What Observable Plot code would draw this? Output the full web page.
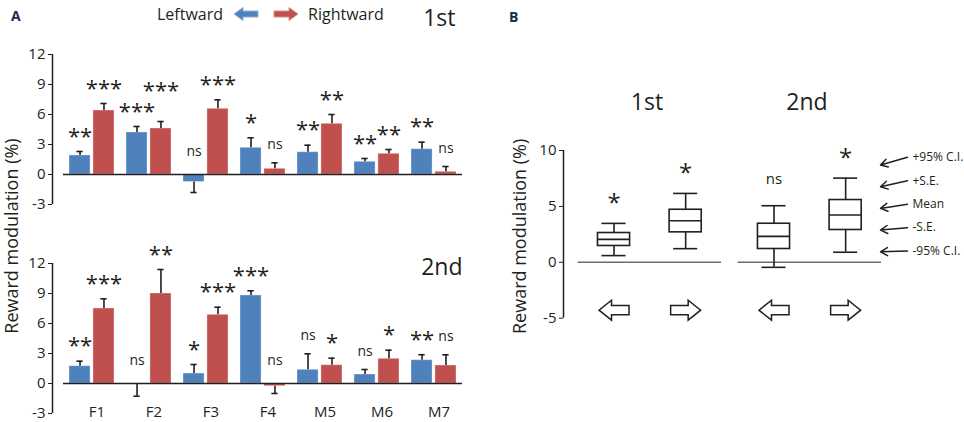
<!DOCTYPE html>
<html>
<head>
<meta charset="utf-8">
<script src="https://cdn.jsdelivr.net/npm/d3@7"></script>
<script src="https://cdn.jsdelivr.net/npm/@observablehq/plot@0.6"></script>
<style>
  html, body { margin: 0; padding: 0; background: #fff; }
  #fig { position: relative; width: 964px; height: 422px; background: #fff; font-family: "Open Sans", sans-serif; color: #231f20; overflow: hidden; }
  #fig > * { position: absolute; }
  .panel-letter { font-weight: bold; font-size: 14px; color: #1d2b4f; }
  .ylab { font-size: 18px; white-space: nowrap; transform: translate(-50%, -50%) rotate(-90deg); }
  #legend { display: flex; align-items: center; font-size: 16px; height: 26px; }
  #legend svg { display: block; }
</style>
</head>
<body>
<div id="fig">
  <div class="panel-letter" style="left:11px;top:6px;">A</div>
  <div class="panel-letter" style="left:509px;top:7px;">B</div>
  <div class="ylab" style="left:11px;top:236px;">Reward modulation (%)</div>
  <div id="legend" style="left:157px;top:1px;">
    <span>Leftward</span>
    <svg width="26" height="16" style="margin-left:10px" viewBox="0 0 26 16"><polygon points="1,8 10,1.5 10,5 25,5 25,11 10,11 10,14.5" fill="#4F81BD" stroke="#8fb0d8" stroke-width="1"/></svg>
    <svg width="26" height="16" style="margin-left:14px" viewBox="0 0 26 16"><polygon points="25,8 16,1.5 16,5 1,5 1,11 16,11 16,14.5" fill="#C0504D" stroke="#d98d8b" stroke-width="1"/></svg>
    <span style="margin-left:9px">Rightward</span>
  </div>
</div>
<script>
// ---------- data ----------
const regions = ["F1", "F2", "F3", "F4", "M5", "M6", "M7"];
const directions = ["Leftward", "Rightward"];
const phases = ["1st", "2nd"];

// Panel A: mean reward modulation (%) and s.e.m., per region
const left1st     = [1.9, 4.2, -0.75, 2.67, 2.23, 1.27, 2.53];
const left1stErr  = [0.4, 0.6, 1.05, 1.0, 0.7, 0.33, 0.7];
const right1st    = [6.4, 4.6, 6.57, 0.57, 5.07, 2.07, 0.27];
const right1stErr = [0.7, 0.7, 0.9, 0.6, 0.93, 0.43, 0.53];
const left2nd     = [1.73, -0.1, 1.0, 8.8, 1.37, 0.9, 2.33];
const left2ndErr  = [0.5, 1.17, 0.9, 0.47, 1.6, 0.5, 0.55];
const right2nd    = [7.5, 9.0, 6.87, -0.27, 1.83, 2.47, 1.8];
const right2ndErr = [0.97, 2.4, 0.76, 0.73, 0.7, 0.86, 1.07];
const left1stSig  = ["**", "***", "ns", "*", "**", "**", "**"];
const right1stSig = ["***", "***", "***", "ns", "**", "**", "ns"];
const left2ndSig  = ["**", "ns", "*", "***", "ns", "ns", "**"];
const right2ndSig = ["***", "**", "***", "ns", "*", "*", "ns"];
const tickA = [-3, 0, 3, 6, 9, 12];

// Panel B: population summary (mean, ±S.E., ±95% C.I.)
const boxPhase = ["1st", "1st", "2nd", "2nd"];
const boxDir   = ["Leftward", "Rightward", "Leftward", "Rightward"];
const ciLow    = [0.6, 1.22, -0.45, 0.9];
const seLow    = [1.46, 2.68, 1.19, 2.89];
const means    = [2.05, 3.72, 2.32, 4.23];
const seHigh   = [2.62, 4.7, 3.45, 5.57];
const ciHigh   = [3.48, 6.16, 5.06, 7.53];
const boxSig   = ["*", "*", "ns", "*"];
const tickB = [-5, 0, 5, 10];
const keyLabels = ["+95% C.I.", "+S.E.", "Mean", "-S.E.", "-95% C.I."];
const yLabel = "Reward modulation (%)";

// ---------- styling ----------
const BLUE = "#4F81BD", RED = "#C0504D", INK = "#231f20";
const FONT = "'Open Sans', sans-serif";
const fig = document.getElementById("fig");

// ---------- panel A ----------
const series = [
  [[left1st, left1stErr, left1stSig], [right1st, right1stErr, right1stSig]],
  [[left2nd, left2ndErr, left2ndSig], [right2nd, right2ndErr, right2ndSig]]
];
const xlo = -0.693;

function panelA(k) {
  const bars = [];
  regions.forEach((r, i) => {
    const pair = directions.map((d, j) => {
      const [vals, errs, sigs] = series[k][j];
      const v = vals[i], e = errs[i];
      const tip = v >= 0 ? v + e : v - e;
      return {region: r, dir: d, pos: i + (j ? 0.21 : -0.21), value: v, tip, sig: sigs[i],
              ly: Math.max(tip, sigs[i] === "ns" ? 0.5 : 0)};
    });
    // keep long star labels of one pair from colliding
    const [a, b] = pair;
    if (a.sig.length + b.sig.length >= 6 && Math.abs(a.ly - b.ly) < 2.1) {
      const hi = a.ly > b.ly ? a : b, lo = hi === a ? b : a;
      hi.ly = lo.ly + 2.1;
    }
    bars.push(...pair);
  });
  const marks = [
    Plot.rect(bars, {x1: d => d.pos - 0.185, x2: d => d.pos + 0.185, y1: 0, y2: "value", fill: "dir", stroke: "#fff", strokeOpacity: 0.35, strokeWidth: 1}),
    Plot.ruleX(bars, {x: "pos", y1: "value", y2: "tip", stroke: INK, strokeWidth: 1.6}),
    Plot.ruleY(bars, {y: "tip", x1: d => d.pos - 0.055, x2: d => d.pos + 0.055, stroke: INK, strokeWidth: 1.6}),
    Plot.ruleY([0], {x1: -0.5, x2: 6.5, stroke: INK, strokeWidth: 1.5}),
    Plot.ruleX([xlo], {y1: -3, y2: 12, stroke: INK, strokeWidth: 1.5}),
    Plot.axisY({ticks: tickA, tickSize: 4, tickPadding: 3, tickFormat: d => String(d), label: null, fontSize: 15}),
    Plot.text(bars.filter(d => d.sig !== "ns"), {x: "pos", y: "ly", text: "sig", lineAnchor: "middle", dy: -15, fontSize: 22, fill: INK}),
    Plot.text(bars.filter(d => d.sig === "ns"), {x: "pos", y: "ly", text: "sig", lineAnchor: "middle", dy: -18, fontSize: 14, fill: INK}),
    Plot.text([phases[k]], {frameAnchor: "top-right", textAnchor: "end", lineAnchor: "middle", dx: k ? 0 : -7, dy: k ? 4 : -36, fontSize: 23, fill: INK})
  ];
  if (k === 1) {
    marks.push(Plot.text(regions, {x: (d, i) => i, y: -3, text: d => d, dx: 5, dy: -1, lineAnchor: "middle", fontSize: 15, fill: INK}));
  }
  return Plot.plot({
    width: 480, height: 212,
    marginTop: 54, marginBottom: 8, marginLeft: 52, marginRight: 18,
    x: {domain: [xlo, 6.5], axis: null},
    y: {domain: [-3, 12], axis: null},
    color: {domain: directions, range: [BLUE, RED]},
    style: {fontFamily: FONT, fontSize: "15px", color: INK, background: "transparent", overflow: "visible"},
    marks
  });
}

const a1 = panelA(0);
a1.style.left = "0px"; a1.style.top = "0px"; a1.style.position = "absolute";
fig.appendChild(a1);
const a2 = panelA(1);
a2.style.left = "0px"; a2.style.top = "209px"; a2.style.position = "absolute";
fig.appendChild(a2);

// ---------- panel B ----------
const GAP = 1.1165;   // phase block width 1 + gap
const bxlo = -0.1026;
const boxes = boxPhase.map((p, i) => ({
  phase: p, dir: boxDir[i],
  x: phases.indexOf(p) * GAP + (directions.indexOf(boxDir[i]) ? 0.75 : 0.25),
  ciLow: ciLow[i], seLow: seLow[i], mean: means[i], seHigh: seHigh[i], ciHigh: ciHigh[i], sig: boxSig[i]
}));

function arrowSymbol(dirSign) {
  return {
    draw(context, size) {
      const r = Math.sqrt(size / Math.PI), s = r / 15;
      const pts = [[-15, -4.6], [2.5, -4.6], [2.5, -10], [15, 0], [2.5, 10], [2.5, 4.6], [-15, 4.6]];
      pts.forEach(([px, py], i) => {
        const X = dirSign * px * s, Y = py * s;
        if (i === 0) context.moveTo(X, Y); else context.lineTo(X, Y);
      });
      context.closePath();
    }
  };
}
const leftArrow = arrowSymbol(-1), rightArrow = arrowSymbol(1);

const bw = 0.112, cw = 0.084;
const b = Plot.plot({
  width: 484, height: 422,
  marginTop: 150, marginBottom: 104.3, marginLeft: 83, marginRight: 0,
  x: {domain: [bxlo, 2.696], axis: null},
  y: {domain: [-5, 10], axis: null},
  style: {fontFamily: FONT, fontSize: "15px", color: INK, background: "transparent", overflow: "visible"},
  marks: [
    Plot.ruleX([bxlo], {y1: -5, y2: 10, stroke: INK, strokeWidth: 1.5}),
    Plot.axisY({ticks: tickB, tickSize: 4, tickPadding: 3, tickFormat: d => String(d), label: null, fontSize: 15}),
    Plot.ruleY(phases, {y: 0, x1: (d, i) => i * GAP, x2: (d, i) => i * GAP + 1, stroke: "#6b6b6b", strokeWidth: 1.6}),
    Plot.ruleX(boxes, {x: "x", y1: "ciLow", y2: "ciHigh", stroke: INK, strokeWidth: 1.6}),
    Plot.ruleY(boxes, {y: "ciLow", x1: d => d.x - cw, x2: d => d.x + cw, stroke: INK, strokeWidth: 1.6}),
    Plot.ruleY(boxes, {y: "ciHigh", x1: d => d.x - cw, x2: d => d.x + cw, stroke: INK, strokeWidth: 1.6}),
    Plot.rect(boxes, {x1: d => d.x - bw, x2: d => d.x + bw, y1: "seLow", y2: "seHigh", fill: "#fff", stroke: INK, strokeWidth: 1.6}),
    Plot.ruleY(boxes, {y: "mean", x1: d => d.x - bw, x2: d => d.x + bw, stroke: INK, strokeWidth: 1.6}),
    Plot.text(boxes.filter(d => d.sig !== "ns"), {x: "x", y: "ciHigh", text: "sig", lineAnchor: "middle", dy: -20, fontSize: 24, fill: INK}),
    Plot.text(boxes.filter(d => d.sig === "ns"), {x: "x", y: "ciHigh", text: "sig", lineAnchor: "middle", dy: -27, fontSize: 15, fill: INK}),
    Plot.dot(boxes.filter(d => d.dir === "Leftward"), {x: "x", frameAnchor: "bottom", dy: -8, r: 15, symbol: leftArrow, fill: "#fff", stroke: INK, strokeWidth: 1.5}),
    Plot.dot(boxes.filter(d => d.dir === "Rightward"), {x: "x", frameAnchor: "bottom", dy: -8, r: 15, symbol: rightArrow, fill: "#fff", stroke: INK, strokeWidth: 1.5}),
    Plot.text(phases, {x: (d, i) => i * GAP + 0.48, frameAnchor: "top", lineAnchor: "middle", dy: -48, fontSize: 23, fill: INK}),
    Plot.text([yLabel], {frameAnchor: "left", textAnchor: "middle", rotate: -90, dx: -43, dy: 2, fontSize: 18, fill: INK}),
    Plot.arrow(keyLabels, {x1: 2.298, y1: (d, i) => 9.4 - i * 2.1, x2: 2.11, y2: (d, i) => 8.7 - i * 1.94, stroke: INK, strokeWidth: 1.5, headLength: 8}),
    Plot.text(keyLabels, {x: 2.333, y: (d, i) => 9.4 - i * 2.1, text: d => d, textAnchor: "start", lineAnchor: "middle", fontSize: 12, fill: INK})
  ]
});
b.style.left = "480px"; b.style.top = "0px"; b.style.position = "absolute";
fig.appendChild(b);
</script>
</body>
</html>
